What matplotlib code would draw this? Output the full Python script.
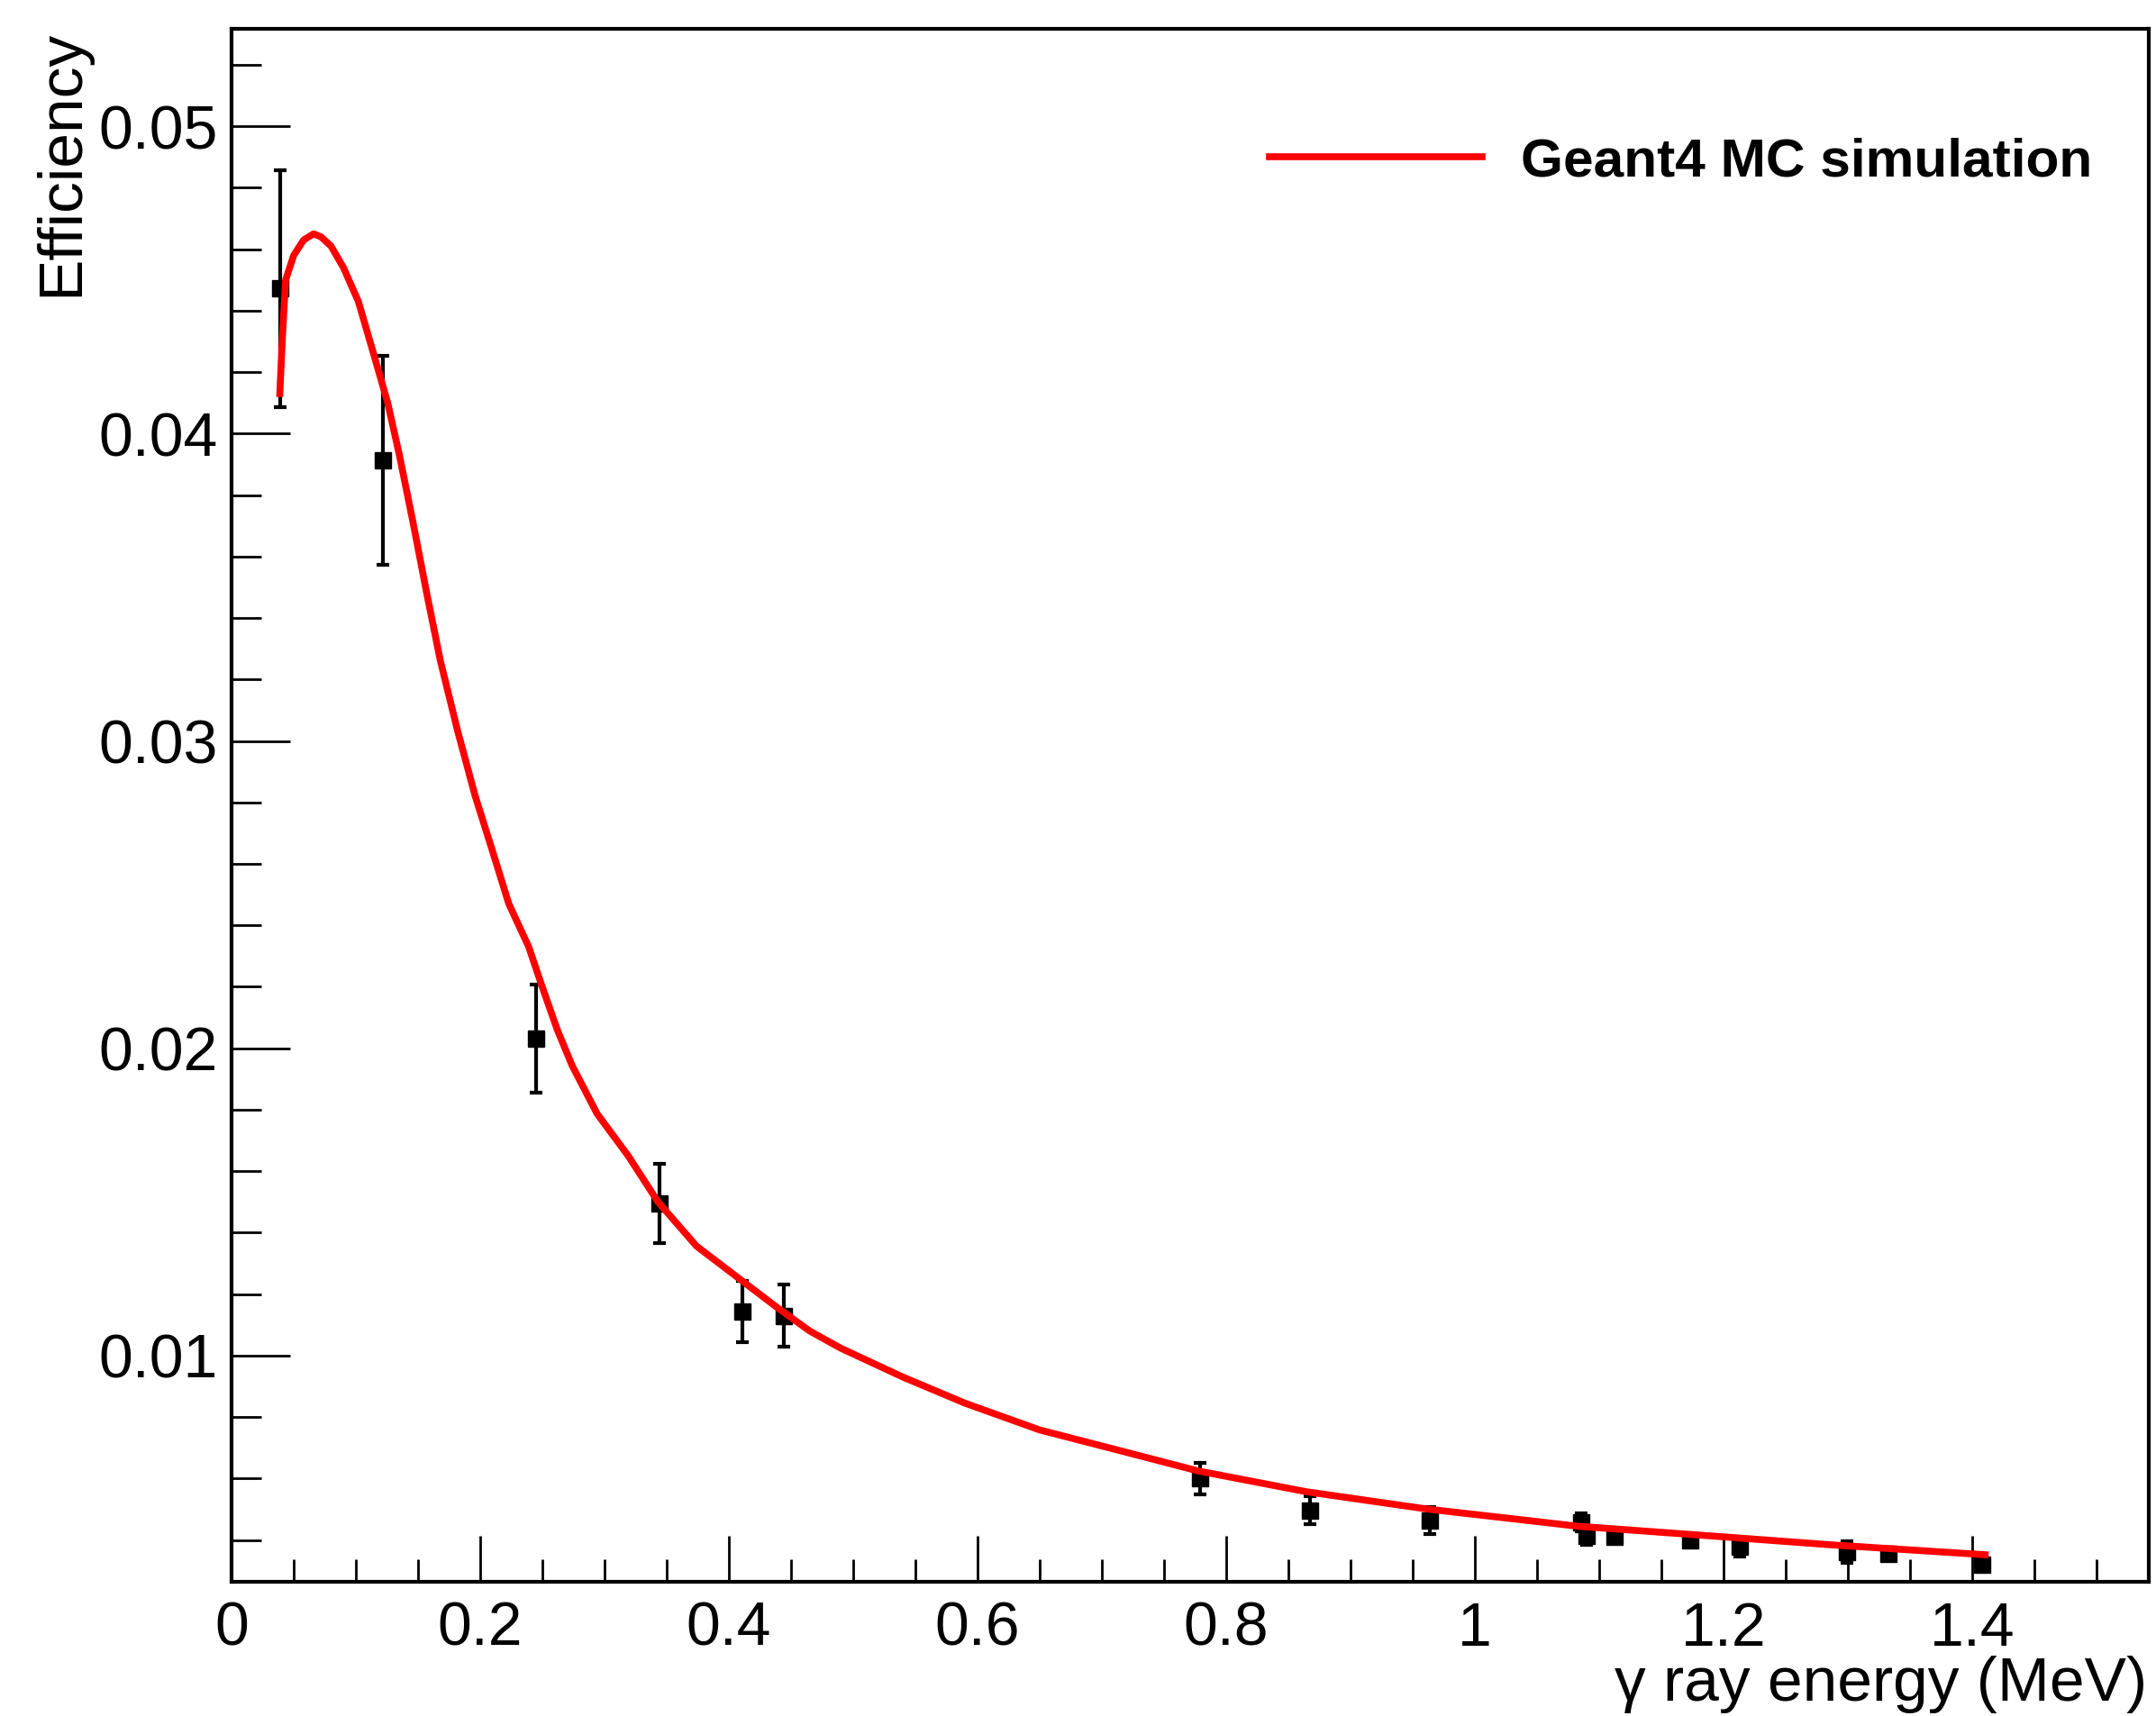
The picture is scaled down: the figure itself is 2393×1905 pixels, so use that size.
import matplotlib
matplotlib.use("Agg")
import matplotlib.pyplot as plt
from matplotlib.ticker import FixedLocator, MultipleLocator

plt.rcParams['font.family'] = ['Liberation Sans', 'DejaVu Sans']

# measured points (gamma energy in MeV, efficiency, error)
energy = [0.039, 0.1218, 0.2447, 0.3443, 0.4111, 0.4440, 0.7789, 0.8674, 0.9641,
          1.0858, 1.0897, 1.1121, 1.1732, 1.2129, 1.2991, 1.3325, 1.4080]
eff = [0.04472, 0.03912, 0.02031, 0.01495, 0.01143, 0.01130, 0.00600, 0.00497, 0.00463,
       0.00458, 0.00414, 0.00410, 0.00398, 0.00377, 0.00361, 0.00355, 0.00320]
eff_err = [0.00386, 0.0034, 0.00175, 0.0013, 0.0010, 0.0010, 0.00052, 0.00045, 0.00045,
           0.0003, 0.0003, 0.0002, 0.0002, 0.0003, 0.00035, 0.0002, 0.0002]

# Geant4 MC curve
sim_e = [0.0388, 0.041, 0.0435, 0.05, 0.058, 0.066, 0.072, 0.08, 0.09, 0.102, 0.1135,
         0.1256, 0.135, 0.146, 0.157, 0.168, 0.182, 0.196, 0.21, 0.223, 0.239, 0.249,
         0.262, 0.274, 0.294, 0.319, 0.343, 0.374, 0.4055, 0.437, 0.465, 0.49, 0.54,
         0.59, 0.65, 0.72, 0.777, 0.8645, 0.961, 1.0457, 1.0819, 1.1906, 1.2872, 1.4104]
sim_eff = [0.0413, 0.0432, 0.0450, 0.0458, 0.0463, 0.0465, 0.0464, 0.0461, 0.0454, 0.0443,
           0.0427, 0.0410, 0.0393, 0.0371, 0.0348, 0.0326, 0.0303, 0.0282, 0.0264, 0.0247,
           0.0233, 0.0221, 0.0206, 0.01943, 0.01787, 0.0165, 0.0150, 0.01356, 0.01259,
           0.01162, 0.0108, 0.01024, 0.0093, 0.00845, 0.00758, 0.00685, 0.00625, 0.00557,
           0.00501, 0.00462, 0.00445, 0.00413, 0.00384, 0.00352]

xticks = [0, 0.2, 0.4, 0.6, 0.8, 1.0, 1.2, 1.4]
xtick_labels = ["0", "0.2", "0.4", "0.6", "0.8", "1", "1.2", "1.4"]
yticks = [0.01, 0.02, 0.03, 0.04, 0.05]
ytick_labels = ["0.01", "0.02", "0.03", "0.04", "0.05"]

W, H = 2393, 1905
fig = plt.figure(figsize=(W / 100, H / 100), dpi=100)
ax = fig.add_axes([257 / W, (H - 1756) / H, (2385 - 257) / W, (1756 - 32) / H])

ax.errorbar(energy, eff, yerr=eff_err, fmt='s', color='black', ms=13,
            elinewidth=3, capsize=5, capthick=3, zorder=2)
ax.plot(sim_e, sim_eff, color='red', lw=5.5, zorder=3, label='Geant4 MC simulation')

ax.set_xlim(0, 1.542)
ax.set_ylim(0.00264, 0.05317)

ax.xaxis.set_major_locator(FixedLocator(xticks))
ax.set_xticklabels(xtick_labels)
ax.xaxis.set_minor_locator(MultipleLocator(0.05))
ax.yaxis.set_major_locator(FixedLocator(yticks))
ax.set_yticklabels(ytick_labels)
ax.yaxis.set_minor_locator(MultipleLocator(0.002))

ax.tick_params(axis='both', which='both', direction='in', top=False, right=False,
               width=2, labelsize=49)
ax.tick_params(axis='y', which='major', length=47, pad=11)
ax.tick_params(axis='y', which='minor', length=24)
ax.tick_params(axis='x', which='major', length=37, pad=15)
ax.tick_params(axis='x', which='minor', length=18)
for s in ax.spines.values():
    s.set_linewidth(3)

fig.text(0.0286, 0.983, "Efficiency", rotation=90, ha='center', va='top', fontsize=50)
fig.text(0.996, 0.0089, "\u03b3 ray energy (MeV)", ha='right', va='baseline', fontsize=50)

ax.legend(loc='center left', bbox_to_anchor=(1409 / W, 1 - 180 / H),
          bbox_transform=fig.transFigure, frameon=False, borderpad=0, borderaxespad=0,
          handlelength=3.9, handletextpad=0.71, prop={'weight': 'bold', 'size': 43.5})

fig.savefig("out.png", dpi=100)
